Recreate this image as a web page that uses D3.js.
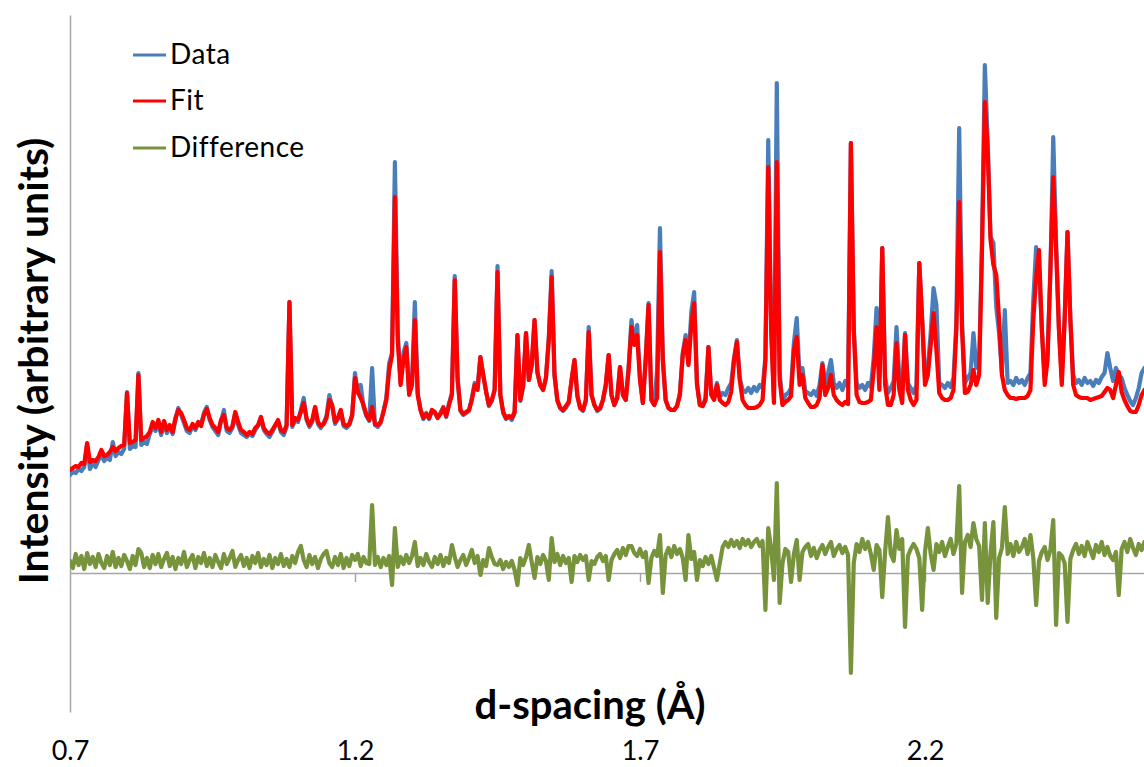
<!DOCTYPE html>
<html>
<head>
<meta charset="utf-8">
<script src="https://cdn.jsdelivr.net/npm/d3@7"></script>
<style>
  html, body { margin: 0; padding: 0; background: #ffffff; }
  svg { display: block; }
  text { font-family: "Lato", "Open Sans", sans-serif; fill: #000; }
</style>
</head>
<body>
<svg id="chart" width="1144" height="767"></svg>
<script>
// Powder pattern sampled on a uniform d-spacing grid (Å)
const dStart = 0.7;
const dStep = 0.005;

// Observed intensity (arbitrary units)
const dataValues = [
  98,101,100,104,102,106,128,104,110,106,
  113,118,112,116,113,131,117,121,119,124,
  181,124,127,126,200,128,131,129,139,147,
  142,150,138,149,140,146,139,153,165,158,
  150,142,140,147,143,150,149,160,166,153,
  146,142,138,152,163,142,140,145,160,148,
  140,138,136,139,137,143,147,155,143,139,
  136,141,147,151,141,138,146,271,146,153,
  151,163,175,153,146,151,165,149,145,150,
  157,178,166,149,154,162,147,145,148,157,
  200,180,188,166,157,152,205,148,146,150,
  162,175,210,220,411,240,190,220,230,180,
  190,271,180,163,154,160,154,162,160,156,
  160,166,156,170,180,297,195,162,158,160,
  162,175,190,185,216,198,182,167,172,183,
  307,178,160,154,156,153,160,238,172,186,
  240,193,208,253,200,188,183,195,235,302,
  198,172,165,162,165,170,193,213,177,165,
  162,172,246,178,168,162,164,173,188,218,
  178,168,175,206,178,173,205,253,230,248,
  195,170,214,270,173,168,203,345,215,173,
  165,163,163,167,180,220,238,210,261,281,
  190,168,167,175,226,180,175,190,176,180,
  178,185,190,215,233,195,183,181,185,180,
  186,182,188,185,215,433,250,175,490,200,
  170,178,180,185,230,255,195,205,182,180,
  178,182,177,188,210,190,200,213,190,185,
  190,183,192,186,430,245,190,185,188,183,
  190,186,215,265,195,325,195,180,185,192,
  246,195,183,240,190,185,180,188,310,255,
  195,205,240,285,268,190,188,185,190,186,
  195,250,445,250,190,195,200,240,205,210,
  330,508,430,336,330,266,240,200,263,190,
  192,188,195,190,193,188,195,200,273,326,
  303,245,195,220,300,436,330,245,195,255,
  341,255,198,190,193,188,195,190,192,187,
  193,190,196,200,220,205,192,205,198,195,
  185,178,172,168,175,185,200,205
];

// Refined model intensity
const fitValues = [
  103,105,107,106,110,109,130,111,113,112,
  116,123,117,118,121,126,122,125,127,128,
  180,130,131,133,198,133,135,137,141,151,
  145,153,141,152,143,148,141,155,163,160,
  153,145,143,149,145,151,147,158,164,155,
  148,145,141,153,158,145,143,147,161,151,
  143,141,138,141,139,145,148,156,145,141,
  139,143,148,153,143,141,148,271,148,155,
  153,161,170,155,148,153,166,151,147,149,
  155,173,168,151,155,163,149,147,149,158,
  195,181,175,168,158,153,166,149,148,151,
  161,173,203,218,376,233,188,213,226,178,
  188,253,178,163,155,159,155,163,161,155,
  159,165,157,168,178,293,193,163,159,161,
  163,173,188,183,216,198,181,168,173,183,
  301,178,161,155,157,155,161,238,173,188,
  240,193,208,253,201,188,183,195,233,296,
  198,173,165,163,167,171,193,213,178,165,
  163,173,241,178,168,163,165,173,188,218,
  178,168,175,206,178,173,203,246,228,238,
  193,170,213,268,173,168,175,321,213,173,
  165,163,163,167,178,218,233,208,248,270,
  188,168,167,173,226,178,173,188,173,170,
  168,171,181,213,231,193,173,168,165,165,
  165,166,168,173,213,406,243,170,411,193,
  168,171,173,177,223,236,188,198,175,170,
  166,166,168,175,208,178,185,198,178,173,
  170,168,171,169,430,243,178,171,170,170,
  171,173,203,246,183,325,188,168,168,178,
  230,183,170,238,183,173,168,173,310,253,
  188,198,228,260,223,180,175,173,173,175,
  183,243,371,243,180,181,188,203,188,198,
  323,471,423,333,308,298,253,198,183,178,
  175,175,174,175,175,175,177,183,253,296,
  323,243,188,213,303,396,323,243,188,253,
  341,253,188,178,176,175,175,175,173,174,
  175,176,177,181,185,183,175,188,201,181,
  173,167,162,161,161,168,178,183
];

// Observed minus calculated
const diffValues = [
  12,5,19,8,17,4,20,9,16,6,
  19,10,5,17,8,21,6,15,7,18,
  12,4,17,8,24,20,6,15,5,18,
  9,19,6,14,20,7,16,4,15,9,
  21,6,13,18,5,16,10,20,7,15,
  6,18,11,5,19,9,15,22,6,13,
  18,7,15,5,17,10,20,6,14,8,
  18,5,15,9,19,7,14,6,17,10,
  21,27,13,6,18,9,16,5,14,19,
  22,10,6,16,8,19,5,15,7,18,
  13,19,7,16,10,9,68,8,16,6,
  15,8,17,-12,45,6,16,9,18,10,
  17,31,7,15,8,19,11,6,16,9,
  18,7,15,10,28,16,6,13,18,8,
  15,23,10,17,-2,13,7,25,16,9,
  8,13,4,11,6,12,3,-12,15,8,
  16,28,11,-5,16,9,18,12,-7,35,
  11,19,8,17,10,15,-9,17,11,18,
  13,17,-7,12,9,16,19,12,17,-7,
  13,19,23,15,25,18,27,27,20,17,
  24,16,21,-10,15,22,17,38,-20,18,
  25,16,27,19,24,15,-7,38,14,21,
  -7,13,7,16,9,17,5,-7,10,26,
  31,26,33,27,32,25,34,28,33,26,
  31,34,27,32,-37,45,25,-7,90,-30,
  10,24,21,-9,19,33,-7,21,26,29,
  17,25,15,23,28,19,26,31,17,24,
  28,20,26,18,-100,10,29,21,34,24,
  31,19,3,28,23,-24,21,56,19,12,
  43,24,34,-54,17,24,29,24,15,-37,
  21,45,19,3,29,21,31,17,26,34,
  19,29,87,-20,31,38,26,50,34,27,
  -27,50,-30,20,51,-45,15,25,66,19,
  29,17,31,21,26,34,19,38,15,-32,
  12,21,26,13,23,53,-52,20,17,10,
  -49,14,23,29,19,27,17,31,23,15,
  28,21,31,18,26,17,13,21,-22,24,
  31,21,34,25,18,29,23,31
];

const xTickValues = [0.7, 1.2, 1.7, 2.2];
const seriesNames = ["Data", "Fit", "Difference"];
const seriesColors = ["#4a7ebb", "#ff0000", "#77933c"];

const svg = d3.select("#chart");

const x = d3.scaleLinear().domain([0.7, 2.585]).range([70, 1144.45]);
const y = d3.scaleLinear().domain([-139, 558]).range([712, 15]);

const dAt = i => dStart + i * dStep;

// Vertical axis (no labels)
svg.append("g")
  .attr("transform", "translate(70,0)")
  .call(d3.axisLeft(y).ticks(0).tickSizeOuter(0))
  .call(g => g.select(".domain").attr("stroke", "#a6a6a6").attr("stroke-width", 1.5));

// Horizontal axis through zero
svg.append("g")
  .attr("transform", `translate(0,${y(0)})`)
  .call(d3.axisBottom(x).tickValues(xTickValues.slice(1)).tickSize(9).tickSizeOuter(0).tickFormat(""))
  .call(g => g.select(".domain").attr("stroke", "#a6a6a6").attr("stroke-width", 1.5))
  .call(g => g.selectAll(".tick line").attr("stroke", "#a6a6a6").attr("stroke-width", 1.5));

// Tick labels along the bottom edge
svg.append("g")
  .attr("transform", "translate(0,741)")
  .call(d3.axisBottom(x).tickValues(xTickValues).tickSize(0).tickPadding(0).tickFormat(d3.format(".1f")))
  .call(g => g.select(".domain").remove())
  .call(g => g.selectAll("text")
    .attr("font-family", "Lato, 'Open Sans', sans-serif")
    .attr("font-size", 27)
    .attr("fill", "#000"));

// Series lines
const line = d3.line()
  .x((v, i) => x(dAt(i)))
  .y(v => y(v))
  .curve(d3.curveLinear);

svg.append("defs").append("clipPath").attr("id", "plotClip")
  .append("rect").attr("x", 70).attr("y", 0).attr("width", 1074).attr("height", 767);

const plot = svg.append("g").attr("clip-path", "url(#plotClip)");

[dataValues, fitValues, diffValues].forEach((vals, k) => {
  plot.append("path")
    .datum(vals)
    .attr("fill", "none")
    .attr("stroke", seriesColors[k])
    .attr("stroke-width", 4.2)
    .attr("stroke-linejoin", "round")
    .attr("stroke-linecap", "round")
    .attr("d", line);
});

// Legend
const legend = svg.append("g");
const legendY = [55, 101, 148];
seriesNames.forEach((name, k) => {
  legend.append("line")
    .attr("x1", 133).attr("x2", 166)
    .attr("y1", legendY[k]).attr("y2", legendY[k])
    .attr("stroke", seriesColors[k]).attr("stroke-width", 3);
  legend.append("text")
    .attr("x", 170).attr("y", legendY[k] + 9)
    .attr("font-size", 28)
    .attr("letter-spacing", 0.5)
    .text(name);
});

// Axis titles
svg.append("text")
  .attr("x", 590).attr("y", 719)
  .attr("text-anchor", "middle")
  .attr("font-size", 40)
  .attr("font-weight", 700)
  .text("d-spacing (Å)");

svg.append("text")
  .attr("transform", "translate(48,361) rotate(-90)")
  .attr("text-anchor", "middle")
  .attr("font-size", 41)
  .attr("font-weight", 700)
  .text("Intensity (arbitrary units)");
</script>
</body>
</html>
